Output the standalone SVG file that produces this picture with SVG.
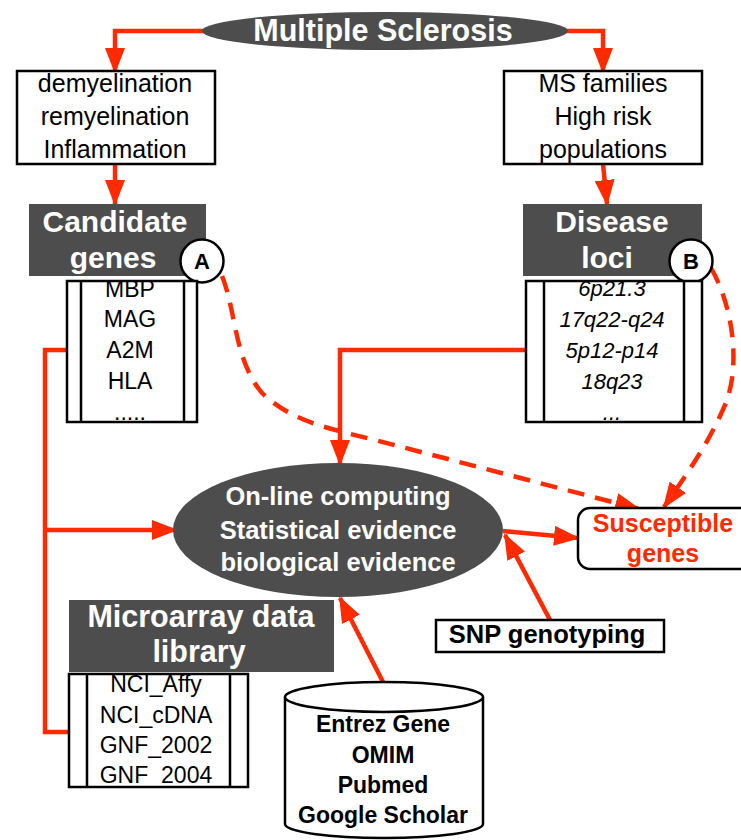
<svg xmlns="http://www.w3.org/2000/svg" width="741" height="840" viewBox="0 0 741 840">
<style>
.bg{fill:#ffffff}
.dark{fill:#4d4d4d}
.box{fill:#ffffff;stroke:#000;stroke-width:2.5}
.t{font-family:"Liberation Sans",Arial,sans-serif;font-size:25px;fill:#000;text-anchor:middle}
.ti{font-family:"Liberation Sans",Arial,sans-serif;font-size:22px;font-style:italic;fill:#000;text-anchor:middle}
.tl{font-family:"Liberation Sans",Arial,sans-serif;font-size:23px;fill:#000;text-anchor:middle}
.tw{font-family:"Liberation Sans",Arial,sans-serif;font-weight:bold;fill:#fff;text-anchor:middle}
.tb{font-family:"Liberation Sans",Arial,sans-serif;font-weight:bold;fill:#000;text-anchor:middle}
.tr{font-family:"Liberation Sans",Arial,sans-serif;font-weight:bold;font-size:25px;fill:#ff2a00;text-anchor:middle}
.c{fill:none;stroke:#ff2a00;stroke-width:4.5}
.d{fill:none;stroke:#ff2a00;stroke-width:4.5;stroke-dasharray:17 11}
</style>
<defs>
<marker id="arr" viewBox="0 0 26 20" refX="24" refY="10" markerWidth="26" markerHeight="20" markerUnits="userSpaceOnUse" orient="auto">
<path d="M0,0 L26,10 L0,20 z" fill="#ff2a00"/>
</marker>
</defs>
<rect class="bg" x="0" y="0" width="741" height="840"/>

<g id="connectors">
<path class="c" d="M205,31 H115 V72" marker-end="url(#arr)"/>
<path class="c" d="M566,31 H603 V72" marker-end="url(#arr)"/>
<path class="c" d="M115,164 V204" marker-end="url(#arr)"/>
<path class="c" d="M603,164 L607,204" marker-end="url(#arr)"/>
<path class="c" d="M67,350 H45 V732 H69"/>
<path class="c" d="M45,530 H176" marker-end="url(#arr)"/>
<path class="c" d="M526,350 H340 V464" marker-end="url(#arr)"/>
<path class="c" d="M503,531 L578,538" marker-end="url(#arr)"/>
<path class="c" d="M550,620 L505,535" marker-end="url(#arr)"/>
<path class="c" d="M383,682 L340,598" marker-end="url(#arr)"/>
<path class="d" d="M222,276 C236,310 234,360 262,393 C290,420 325,428 375,440 L639,509" marker-end="url(#arr)"/>
<path class="d" d="M711,268 C735,310 740,370 725,405 C710,440 690,470 664,507" marker-end="url(#arr)"/>
</g>

<g id="multiple-sclerosis">
<ellipse class="dark" cx="385" cy="31" rx="183" ry="19"/>
<text class="tw" x="383" y="41" font-size="30.5">Multiple Sclerosis</text>
</g>

<g id="mechanisms">
<rect class="box" x="17" y="71" width="198" height="93"/>
<text class="t" x="115" y="92">demyelination</text>
<text class="t" x="115" y="125">remyelination</text>
<text class="t" x="115" y="158">Inflammation</text>
</g>

<g id="families">
<rect class="box" x="504" y="71" width="198" height="93"/>
<text class="t" x="603" y="92">MS families</text>
<text class="t" x="603" y="125">High risk</text>
<text class="t" x="603" y="158">populations</text>
</g>

<g id="candidate-genes">
<rect class="dark" x="29" y="204" width="177" height="72"/>
<text class="tw" x="115" y="232" font-size="30">Candidate</text>
<text class="tw" x="113" y="268" font-size="30">genes</text>
</g>

<g id="circle-a">
<circle cx="202" cy="261" r="21.5" fill="#fff" stroke="#000" stroke-width="2.5"/>
<text class="tb" x="202" y="269" font-size="22">A</text>
</g>

<g id="candidate-list">
<rect class="box" x="67" y="281" width="130" height="141"/>
<line x1="81" y1="281" x2="81" y2="422" stroke="#000" stroke-width="2.5"/>
<line x1="184" y1="281" x2="184" y2="422" stroke="#000" stroke-width="2.5"/>
<text class="tl" x="130" y="297">MBP</text>
<text class="tl" x="130" y="327">MAG</text>
<text class="tl" x="130" y="358">A2M</text>
<text class="tl" x="130" y="389">HLA</text>
<text class="tl" x="130" y="420">.....</text>
</g>

<g id="disease-loci">
<rect class="dark" x="523" y="204" width="179" height="72"/>
<text class="tw" x="612" y="232" font-size="30">Disease</text>
<text class="tw" x="607" y="268" font-size="30">loci</text>
</g>

<g id="circle-b">
<circle cx="691" cy="261" r="21.5" fill="#fff" stroke="#000" stroke-width="2.5"/>
<text class="tb" x="691" y="269" font-size="22">B</text>
</g>

<g id="loci-list">
<rect class="box" x="526" y="281" width="176" height="141"/>
<line x1="544" y1="281" x2="544" y2="422" stroke="#000" stroke-width="2.5"/>
<line x1="684" y1="281" x2="684" y2="422" stroke="#000" stroke-width="2.5"/>
<text class="ti" x="612" y="296">6p21.3</text>
<text class="ti" x="612" y="327">17q22-q24</text>
<text class="ti" x="612" y="358">5p12-p14</text>
<text class="ti" x="612" y="389">18q23</text>
<text class="ti" x="612" y="420">...</text>
</g>

<g id="computing">
<ellipse class="dark" cx="338" cy="530" rx="165" ry="67"/>
<text class="tw" x="338" y="505" font-size="25.5">On-line computing</text>
<text class="tw" x="338" y="539" font-size="25.5">Statistical evidence</text>
<text class="tw" x="338" y="571" font-size="25.5">biological evidence</text>
</g>

<g id="susceptible-genes">
<rect x="578" y="508" width="180" height="61" rx="12" fill="#fff" stroke="#000" stroke-width="2.5"/>
<text class="tr" x="663" y="532">Susceptible</text>
<text class="tr" x="663" y="562">genes</text>
</g>

<g id="snp">
<rect class="box" x="436" y="620" width="228" height="32"/>
<text class="tb" x="547" y="643" font-size="25.5">SNP genotyping</text>
</g>

<g id="microarray">
<rect class="dark" x="69" y="600" width="265" height="72"/>
<text class="tw" x="201" y="627" font-size="30.5">Microarray data</text>
<text class="tw" x="199" y="662" font-size="30.5">library</text>
</g>

<g id="microarray-list">
<rect class="box" x="69" y="674" width="179" height="113"/>
<line x1="87" y1="674" x2="87" y2="787" stroke="#000" stroke-width="2.5"/>
<line x1="230" y1="674" x2="230" y2="787" stroke="#000" stroke-width="2.5"/>
<text class="tl" x="156" y="692">NCI_Affy</text>
<text class="tl" x="156" y="723">NCI_cDNA</text>
<text class="tl" x="156" y="753">GNF_2002</text>
<text class="tl" x="156" y="783">GNF_2004</text>
</g>

<g id="databases">
<path d="M285,697 V824 A99,14 0 0 0 483,824 V697" fill="#fff" stroke="#000" stroke-width="2.5"/>
<ellipse cx="384" cy="697" rx="99" ry="15" fill="#fff" stroke="#000" stroke-width="2.5"/>
<text class="tb" x="383" y="732" font-size="23">Entrez Gene</text>
<text class="tb" x="383" y="763" font-size="23">OMIM</text>
<text class="tb" x="383" y="793" font-size="23">Pubmed</text>
<text class="tb" x="383" y="823" font-size="23">Google Scholar</text>
</g>
</svg>
